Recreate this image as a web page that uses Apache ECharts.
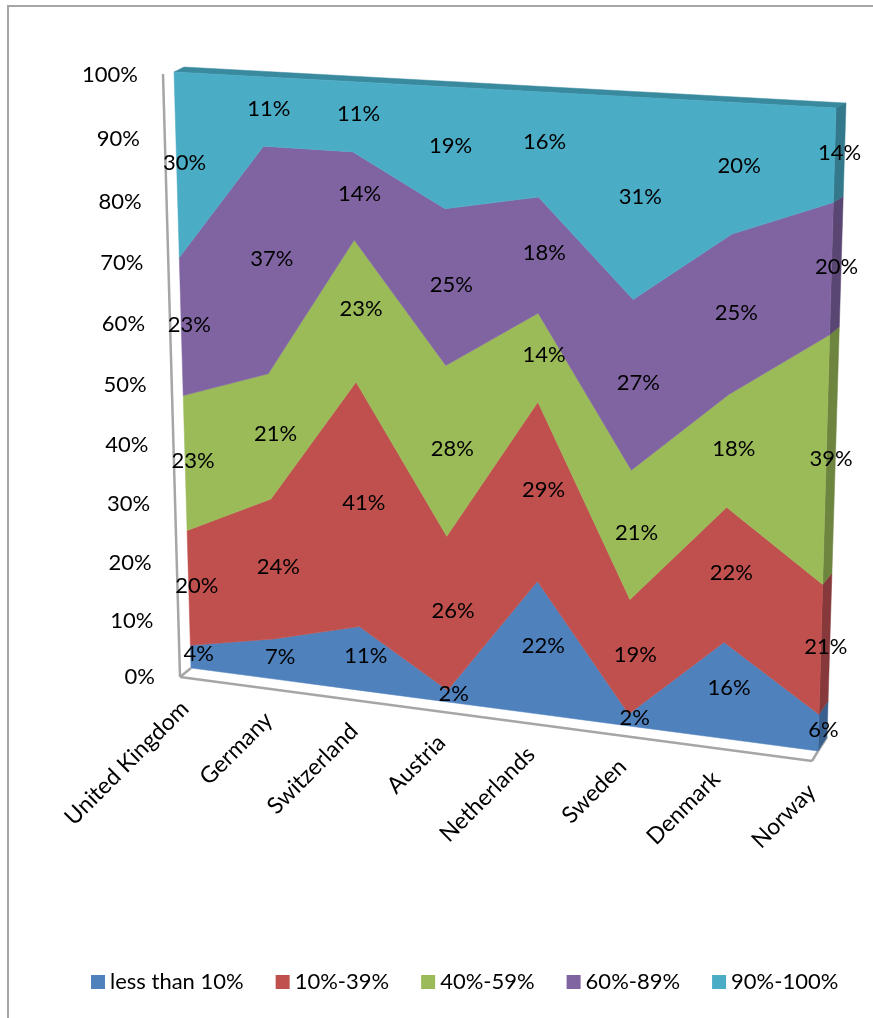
<!DOCTYPE html>
<html>
<head>
<meta charset="utf-8">
<style>html,body{margin:0;padding:0;background:#fff}#chart{width:873px;height:1018px}</style>
<script src="https://cdn.jsdelivr.net/npm/echarts@6/dist/echarts.min.js"></script>
</head>
<body>
<div id="chart"></div>
<script>
// Survey shares per country, one list per response band
const categories = ['United Kingdom', 'Germany', 'Switzerland', 'Austria', 'Netherlands', 'Sweden', 'Denmark', 'Norway'];
const lessThan10 = [4, 7, 11, 2, 22, 2, 16, 6];
const from10to39 = [20, 24, 41, 26, 29, 19, 22, 21];
const from40to59 = [23, 21, 23, 28, 14, 21, 18, 39];
const from60to89 = [23, 37, 14, 25, 18, 27, 25, 20];
const from90to100 = [30, 11, 11, 19, 16, 31, 20, 14];
const bandNames = ['less than 10%', '10%-39%', '40%-59%', '60%-89%', '90%-100%'];
const yTicks = [0, 10, 20, 30, 40, 50, 60, 70, 80, 90, 100];

const bandValues = [lessThan10, from10to39, from40to59, from60to89, from90to100];
const bandColors = ['#4F81BD', '#C0504D', '#9BBB59', '#8064A2', '#4BACC6'];
const sideColors = ['#38608F', '#86383A', '#6E8540', '#5A4672', '#33788B'];
const topColor = '#3A8A9F';
const wallColor = '#A6A6A6';
const fontFamily = 'Lato, sans-serif';
const lastIndex = categories.length - 1;

// Cumulative 100% stack: boundaries[s][i] is the lower edge of band s in column i
const columnTotals = categories.map((_, i) => bandValues.reduce((t, b) => t + b[i], 0));
const boundaries = [categories.map(() => 0)];
bandValues.forEach((band, s) => {
  boundaries.push(band.map((v, i) => boundaries[s][i] + v / columnTotals[i] * 100));
});

// Perspective view of the chart plane: unit square -> front-face quad
const corner = { bl: [191, 668], br: [818, 751], tr: [836, 108], tl: [174, 72] };
const toView = (function () {
  const [x0, y0] = corner.bl, [x1, y1] = corner.br, [x2, y2] = corner.tr, [x3, y3] = corner.tl;
  const sx = x0 - x1 + x2 - x3, sy = y0 - y1 + y2 - y3;
  const dx1 = x1 - x2, dx2 = x3 - x2, dy1 = y1 - y2, dy2 = y3 - y2;
  const den = dx1 * dy2 - dx2 * dy1;
  const g = (sx * dy2 - dx2 * sy) / den, h = (dx1 * sy - sx * dy1) / den;
  const a = x1 - x0 + g * x1, b = x3 - x0 + h * x3;
  const d = y1 - y0 + g * y1, e = y3 - y0 + h * y3;
  return function (u, v) {
    const w = g * u + h * v + 1;
    return [(a * u + b * v + x0) / w, (d * u + e * v + y0) / w];
  };
})();

// Grid pixel from the axis scales, then through the perspective view
function project(api, params, col, val) {
  const p = api.coord([col, val]);
  const r = params.coordSys;
  return toView((p[0] - r.x) / r.width, 1 - (p[1] - r.y) / r.height);
}
// Shift from the front face to the rear face of the slab
function depthOffset(val) {
  const t = val / 100;
  return [9 + t, -14 + 9 * t];
}
function back(pt, val) {
  const o = depthOffset(val);
  return [pt[0] + o[0], pt[1] + o[1]];
}

function renderBand(s) {
  return function (params, api) {
    if (params.dataIndex !== 0) return null;
    const upper = [], lower = [];
    categories.forEach((_, i) => {
      upper.push(project(api, params, i, boundaries[s + 1][i]));
      lower.unshift(project(api, params, i, boundaries[s][i]));
    });
    const loVal = boundaries[s][lastIndex], hiVal = boundaries[s + 1][lastIndex];
    const fHi = project(api, params, lastIndex, hiVal), fLo = project(api, params, lastIndex, loVal);
    const children = [
      { type: 'polygon', shape: { points: [fLo, fHi, back(fHi, hiVal), back(fLo, loVal)] },
        style: { fill: sideColors[s], stroke: sideColors[s], lineWidth: 0.5 } },
      { type: 'polygon', shape: { points: upper.concat(lower) },
        style: { fill: bandColors[s], stroke: bandColors[s], lineWidth: 0.5 } }
    ];
    if (s === bandValues.length - 1) {
      const l = project(api, params, 0, 100), r = project(api, params, lastIndex, 100);
      children.unshift({ type: 'polygon', shape: { points: [l, r, back(r, 100), back(l, 100)] },
        style: { fill: topColor, stroke: topColor, lineWidth: 0.5 } });
    }
    return { type: 'group', children };
  };
}

function renderWalls(params, api) {
  const topLeft = project(api, params, 0, 100), botLeft = project(api, params, 0, 0);
  const botRight = project(api, params, lastIndex, 0);
  const wallTop = [topLeft[0] - 11, topLeft[1] + 2];
  const wallBot = [botLeft[0] - 11, botLeft[1] + 9];
  const floorEnd = [botRight[0] - 6, botRight[1] + 10];
  const line = (a, b) => ({ type: 'line', shape: { x1: a[0], y1: a[1], x2: b[0], y2: b[1] },
    style: { stroke: wallColor, lineWidth: 2.5 } });
  return { type: 'group', children: [
    line(wallTop, wallBot), line(wallBot, floorEnd), line(wallBot, botLeft),
    line(floorEnd, botRight), line(botRight, back(botRight, 0))
  ] };
}

function text(str, x, y, size, extra) {
  return { type: 'text', x, y, style: Object.assign({
    text: str, fill: '#000', font: size + 'px ' + fontFamily,
    textAlign: 'center', textVerticalAlign: 'middle' }, extra || {}) };
}

function renderYTick(params, api) {
  const v = api.value(1);
  const p = project(api, params, 0, v);
  const t = v / 100;
  return text(v + '%', p[0] - 36, p[1] + 9 - 6 * t + (t > 0 && t < 1 ? 1 : 0), 22, { textAlign: 'right' });
}
function renderCategory(params, api) {
  const i = api.value(0);
  const p = project(api, params, i, 0);
  const el = text(categories[i], p[0] - 6, p[1] + 37, 23, { textAlign: 'right' });
  el.rotation = Math.PI / 4;
  return el;
}
function renderValueLabel(params, api) {
  const i = api.value(0), s = api.value(1);
  const mid = (boundaries[s][i] + boundaries[s + 1][i]) / 2;
  const p = project(api, params, i, mid);
  const nudge = i === 0 ? 8 : (i === lastIndex ? 5 : 6);
  return text(bandValues[s][i] + '%', p[0] + nudge, p[1] - 2.5, 22);
}

const valueLabelRows = [];
bandValues.forEach((band, s) => band.forEach((_, i) => valueLabelRows.push([i, s])));

const series = [
  { name: 'walls', type: 'custom', z: 1, silent: true, data: [[0, 0]], renderItem: renderWalls }
];
bandNames.forEach((name, s) => {
  series.push({
    name, type: 'custom', z: 2, silent: true, itemStyle: { color: bandColors[s] },
    data: categories.map((_, i) => [i, boundaries[s + 1][i]]),
    renderItem: renderBand(s)
  });
});
series.push(
  { name: 'yTicks', type: 'custom', z: 3, silent: true, data: yTicks.map(v => [0, v]), renderItem: renderYTick },
  { name: 'categories', type: 'custom', z: 3, silent: true, data: categories.map((_, i) => [i, 0]), renderItem: renderCategory },
  { name: 'values', type: 'custom', z: 4, silent: true, data: valueLabelRows, renderItem: renderValueLabel }
);

const chart = echarts.init(document.getElementById('chart'), null, { renderer: 'canvas' });
chart.setOption({
  animation: false,
  backgroundColor: '#fff',
  grid: { left: 100, right: 100, top: 100, bottom: 100 },
  xAxis: { type: 'category', data: categories, boundaryGap: false, show: false },
  yAxis: { type: 'value', min: 0, max: 100, interval: 10, show: false },
  legend: {
    data: bandNames, left: 91, top: 971, padding: 0, icon: 'rect', itemWidth: 14, itemHeight: 14, itemGap: 32,
    selectedMode: false,
    textStyle: { fontFamily, fontSize: 22, color: '#000' }
  },
  graphic: [
    { type: 'polyline', silent: true, shape: { points: [[8, 1018], [8, 6], [873, 6]] },
      style: { stroke: wallColor, lineWidth: 2, fill: 'none' } }
  ],
  series
});
</script>
</body>
</html>
